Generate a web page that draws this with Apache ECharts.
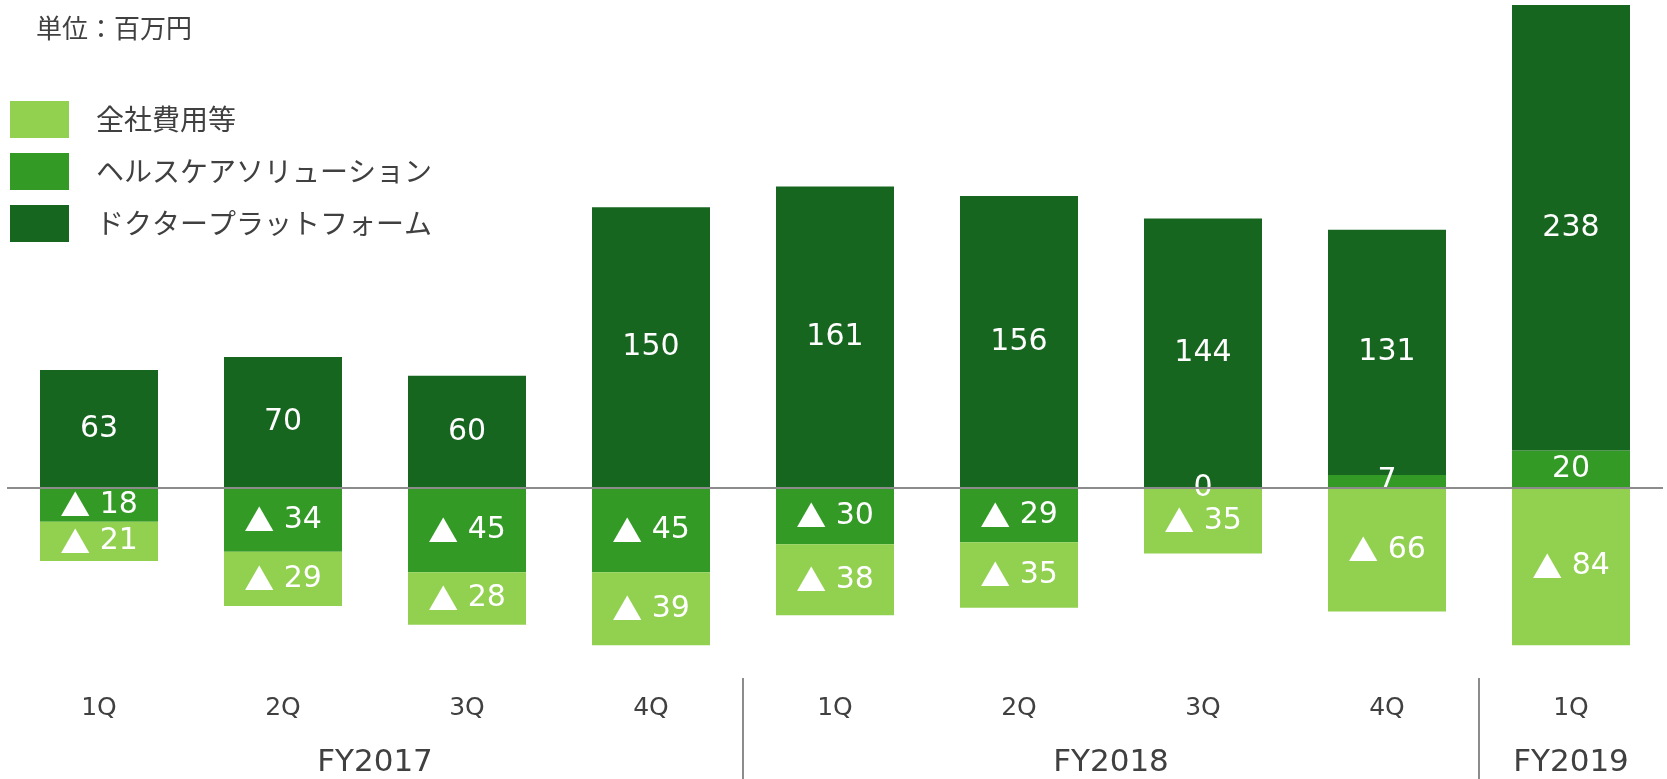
<!DOCTYPE html>
<html><head><meta charset="utf-8">
<script src="https://cdn.jsdelivr.net/npm/echarts@6/dist/echarts.min.js"></script>
<style>html,body{margin:0;padding:0;background:#fff}#c{width:1667px;height:779px}</style>
</head><body><div id="c"></div>
<script>
const categories = ['1Q','2Q','3Q','4Q','1Q','2Q','3Q','4Q','1Q'];
const doctorPlatform = [63, 70, 60, 150, 161, 156, 144, 131, 238];
const healthcareSolution = [-18, -34, -45, -45, -30, -29, 0, 7, 20];
const corporateCosts = [-21, -29, -28, -39, -38, -35, -35, -66, -84];
const groupLabels = ['', '', '', '', 'FY2017', '', '', '', '', '', '', '', 'FY2018', '', '', '', '', 'FY2019', ''];
const separatorIdx = [8, 16];
const names = ['全社費用等', 'ヘルスケアソリューション', 'ドクタープラットフォーム'];

const latin = "'DejaVu Sans', 'Noto Sans CJK JP', sans-serif";
const cjk = "'Noto Sans CJK JP', sans-serif";
const fmt = p => p.value < 0 ? '{t|▲} ' + (-p.value) : String(p.value);
const lbl = {show: true, position: 'inside', color: '#fff', fontSize: 30, fontFamily: latin, formatter: fmt,
  rich: {t: {fontFamily: cjk, fontSize: 30, color: '#fff'}}};

const chart = echarts.init(document.getElementById('c'), null, {renderer: 'canvas'});
chart.setOption({
  animation: false,
  title: {text: '単位：百万円', left: 31, top: 10, textStyle: {fontSize: 26, fontWeight: 'normal', color: '#404040', fontFamily: cjk}},
  legend: {
    data: names, orient: 'vertical', left: 5, top: 96, itemWidth: 59, itemHeight: 37, itemGap: 15,
    icon: 'rect',
    textStyle: {fontSize: 28, color: '#404040', fontFamily: cjk, padding: [0, 0, 0, 22]}
  },
  grid: {left: 7, right: 4, top: 5, bottom: 101},
  xAxis: [
    {type: 'category', data: categories, axisLine: {show: false}, axisTick: {show: false},
     axisLabel: {fontSize: 25, lineHeight: 25, color: '#404040', fontFamily: latin, margin: 18}},
    {type: 'category', data: groupLabels, position: 'bottom', boundaryGap: false,
     axisLine: {show: false},
     axisTick: {show: true, length: 101, inside: false, interval: i => separatorIdx.includes(i), lineStyle: {color: '#8c8c8c', width: 2}},
     axisLabel: {fontSize: 31, lineHeight: 31, color: '#404040', fontFamily: latin, margin: 69, interval: 0}}
  ],
  yAxis: {type: 'value', min: -101.5, max: 258, show: false, splitLine: {show: false}},
  series: [
    {name: names[1], type: 'bar', stack: 's', data: healthcareSolution, barWidth: 118, itemStyle: {color: '#339A26'}, label: lbl},
    {name: names[0], type: 'bar', stack: 's', data: corporateCosts, barWidth: 118, itemStyle: {color: '#92D050'}, label: lbl},
    {name: names[2], type: 'bar', stack: 's', data: doctorPlatform, barWidth: 118, itemStyle: {color: '#17661F'}, label: lbl,
     markLine: {silent: true, symbol: 'none', label: {show: false}, data: [{yAxis: 0}], lineStyle: {color: '#8c8c8c', type: 'solid', width: 2}}}
  ]
});
</script></body></html>
